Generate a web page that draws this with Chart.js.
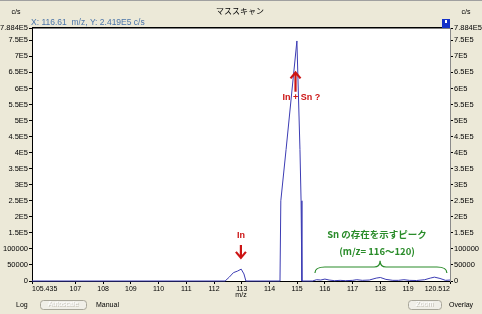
<!DOCTYPE html>
<html lang="ja">
<head>
<meta charset="UTF-8">
<script src="https://cdn.jsdelivr.net/npm/chart.js"></script>
<style>
  body { margin: 0; padding: 0; background: #ece9d8; }
  canvas { display: block; }
</style>
<title>マススキャン</title>
</head>
<body>
<canvas id="massChart" width="482" height="314"></canvas>
<script>
// spectrum (m/z, c/s)
const mzValues = [105.435, 112.40, 112.55, 112.70, 112.85, 112.98, 113.08, 113.15,
  114.38, 114.41, 114.60, 114.99, 115.10, 115.14, 115.17,
  115.55, 115.70, 115.85, 116.00, 116.15, 116.35, 116.55, 116.75, 117.00, 117.15,
  117.35, 117.60, 117.85, 118.00, 118.20, 118.45, 118.65, 118.85, 119.05, 119.30,
  119.60, 119.80, 119.95, 120.15, 120.35, 120.512];
const countValues = [0, 0, 12000, 26000, 31000, 37000, 22000, 0,
  0, 250000, 410000, 748000, 410000, 250000, 0,
  0, 4000, 3000, 6000, 3000, 1000, 2000, 1000, 2000, 4000,
  2000, 3000, 9000, 11000, 5000, 2000, 2000, 4000, 2000, 1500,
  4000, 9000, 12000, 8000, 2000, 3000];

const xTickValues = [105.435, 107, 108, 109, 110, 111, 112, 113, 114, 115, 116, 117, 118, 119, 120.512];
const xTickLabels = ['105.435', '107', '108', '109', '110', '111', '112', '113', '114', '115', '116', '117', '118', '119', '120.512'];
const yTickValues = [0, 50000, 100000, 150000, 200000, 250000, 300000, 350000, 400000,
  450000, 500000, 550000, 600000, 650000, 700000, 750000, 788400];
const yTickLabels = ['0', '50000', '100000', '1.5E5', '2E5', '2.5E5', '3E5', '3.5E5', '4E5',
  '4.5E5', '5E5', '5.5E5', '6E5', '6.5E5', '7E5', '7.5E5', '7.884E5'];

const tickFont = { family: 'Liberation Sans', size: 7.5 };

function yAxis(position, border) {
  return {
    type: 'linear',
    position: position,
    min: 0,
    max: 788400,
    afterBuildTicks: s => { s.ticks = yTickValues.map(v => ({ value: v })); },
    afterFit: s => { s.width = 32; },
    ticks: {
      autoSkip: false,
      padding: 1,
      color: '#000',
      font: tickFont,
      callback: v => yTickLabels[yTickValues.indexOf(v)]
    },
    grid: { drawOnChartArea: false, drawTicks: true, tickLength: 3, color: '#000' },
    border: { display: true, color: border, width: 1 }
  };
}

function drawArrow(ctx, x, yFrom, yTip) {
  const dir = yTip > yFrom ? 1 : -1;
  ctx.beginPath();
  ctx.moveTo(x, yFrom);
  ctx.lineTo(x, yTip - dir * 1);
  ctx.moveTo(x - 5, yTip - dir * 6);
  ctx.lineTo(x, yTip);
  ctx.lineTo(x + 5, yTip - dir * 6);
  ctx.stroke();
}

function drawButton(ctx, x, y, w, h, label) {
  ctx.beginPath();
  ctx.roundRect(x + 0.5, y + 0.5, w, h, 3);
  ctx.fillStyle = '#f0efe8';
  ctx.fill();
  ctx.strokeStyle = '#a8a699';
  ctx.lineWidth = 1;
  ctx.stroke();
  ctx.fillStyle = '#c4c2b8';
  ctx.textAlign = 'center';
  ctx.fillText(label, x + w / 2 + 1, y + h / 2 + 1);
  ctx.fillStyle = '#ffffff';
  ctx.fillText(label, x + w / 2, y + h / 2);
}

const windowChrome = {
  id: 'windowChrome',
  beforeDraw(chart) {
    const { ctx, chartArea: a } = chart;
    ctx.save();
    ctx.fillStyle = '#ece9d8';
    ctx.fillRect(0, 0, chart.width, chart.height);
    ctx.fillStyle = '#a0a0a0';
    ctx.fillRect(0, 0, chart.width, 1);
    ctx.fillStyle = '#ffffff';
    ctx.fillRect(a.left, a.top, a.right - a.left, a.bottom - a.top);
    ctx.restore();
  },
  afterDraw(chart) {
    const { ctx, chartArea: a } = chart;
    const xs = chart.scales.x, ys = chart.scales.y;
    const px = v => xs.getPixelForValue(v);
    const py = v => ys.getPixelForValue(v);
    ctx.save();

    // plot frame top
    ctx.fillStyle = '#000';
    ctx.fillRect(a.left, a.top - 1, a.right - a.left, 1.5);

    // header texts
    ctx.textBaseline = 'middle';
    ctx.textAlign = 'center';
    ctx.fillStyle = '#000';
    ctx.font = '8px "Noto Sans CJK JP"';
    ctx.fillText('マススキャン', 240, 11);
    ctx.font = '7px "Liberation Sans"';
    ctx.fillText('c/s', 16, 12);
    ctx.fillText('c/s', 466, 12);
    ctx.textAlign = 'left';
    ctx.fillStyle = '#4a74a8';
    ctx.font = '8.5px "Liberation Sans"';
    ctx.fillText('X: 116.61  m/z, Y: 2.419E5 c/s', 31, 23);

    // blue corner box
    ctx.fillStyle = '#1432c8';
    ctx.fillRect(442, 19, 8, 9);
    ctx.fillStyle = '#ffffff';
    ctx.fillRect(445, 20, 2, 3);

    // bottom controls
    ctx.fillStyle = '#000';
    ctx.font = '7px "Liberation Sans"';
    ctx.textAlign = 'left';
    ctx.fillText('Log', 16, 305);
    ctx.fillText('Manual', 96, 305);
    ctx.fillText('Overlay', 449, 305);
    drawButton(ctx, 40, 300, 46, 9, 'Autoscale');
    drawButton(ctx, 408, 300, 33, 9, 'Zoom');

    // red annotations
    ctx.strokeStyle = '#cc1414';
    ctx.fillStyle = '#cc1414';
    ctx.lineWidth = 2.2;
    ctx.textAlign = 'center';
    ctx.font = 'bold 9px "Liberation Sans"';
    ctx.fillText('In', px(112.97), py(143000));
    drawArrow(ctx, px(112.97), py(112000), py(72000));
    ctx.fillText('In + Sn ?', px(115.15), py(573000));
    drawArrow(ctx, px(114.94), py(590000), py(650000));

    // green annotations
    ctx.fillStyle = '#2a8c2a';
    ctx.strokeStyle = '#2a8c2a';
    ctx.font = 'bold 9.5px "Noto Sans CJK JP"';
    ctx.fillText('Sn の存在を示すピーク', px(117.88), py(146500));
    ctx.fillText('(m/z= 116〜120)', px(117.88), py(93500));
    const x1 = px(115.64), x2 = px(120.40), xm = px(117.99);
    const yb = py(43600), ye = py(25000), yp = py(63000);
    ctx.lineWidth = 1.2;
    ctx.beginPath();
    ctx.moveTo(x1, ye);
    ctx.quadraticCurveTo(x1, yb, x1 + 10, yb);
    ctx.lineTo(xm - 6, yb);
    ctx.quadraticCurveTo(xm, yb, xm, yp);
    ctx.quadraticCurveTo(xm, yb, xm + 6, yb);
    ctx.lineTo(x2 - 10, yb);
    ctx.quadraticCurveTo(x2, yb, x2, ye);
    ctx.stroke();

    ctx.restore();
  }
};

new Chart(document.getElementById('massChart'), {
  type: 'line',
  data: {
    datasets: [{
      data: mzValues.map((m, i) => ({ x: m, y: countValues[i] })),
      borderColor: '#3c3cb4',
      borderWidth: 1,
      pointRadius: 0,
      tension: 0,
      fill: false,
      clip: 2
    }]
  },
  options: {
    responsive: false,
    animation: false,
    layout: { padding: { top: 28, bottom: 15, left: 0, right: 0 } },
    plugins: { legend: { display: false }, tooltip: { enabled: false } },
    scales: {
      x: {
        type: 'linear',
        position: 'bottom',
        min: 105.435,
        max: 120.512,
        afterBuildTicks: s => { s.ticks = xTickValues.map(v => ({ value: v })); },
        afterFit: s => { s.height = 18; },
        ticks: {
          autoSkip: false,
          maxRotation: 0,
          align: 'inner',
          padding: 1,
          color: '#000',
          font: { family: 'Liberation Sans', size: 7 },
          callback: v => xTickLabels[xTickValues.indexOf(v)]
        },
        title: {
          display: true,
          text: 'm/z',
          color: '#000',
          font: { family: 'Liberation Sans', size: 7 },
          padding: 0
        },
        grid: { drawOnChartArea: false, drawTicks: true, tickLength: 3, color: '#000' },
        border: { display: true, color: '#000', width: 1 }
      },
      y: yAxis('left', '#000'),
      y2: yAxis('right', '#8a8a8a')
    }
  },
  plugins: [windowChrome]
});
</script>
</body>
</html>
